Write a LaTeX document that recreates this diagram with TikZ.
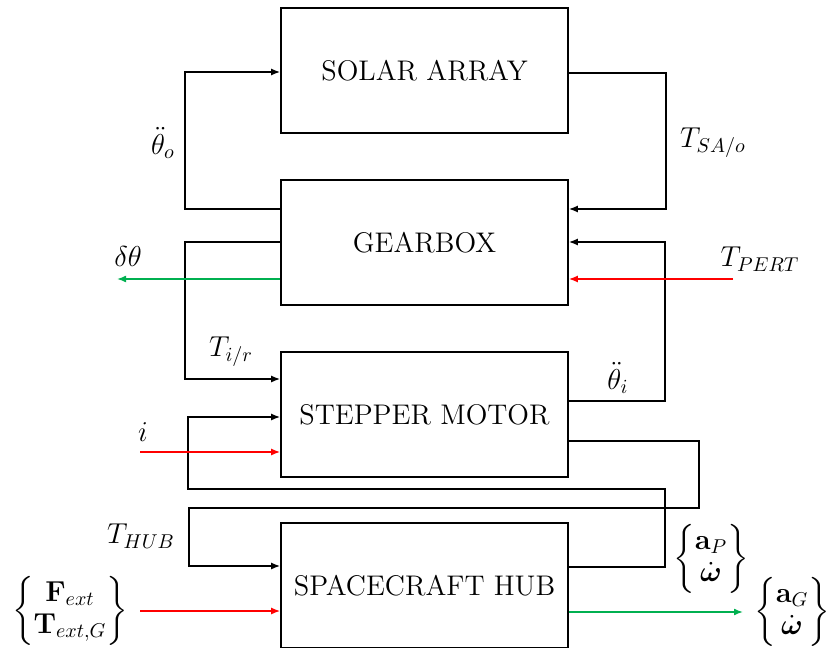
\documentclass[tikz,border=0pt]{standalone}
\usepackage{amsmath}
\usepackage{tikz}
\usetikzlibrary{positioning, arrows.meta}
\definecolor{SigRed}{RGB}{255,0,0}
\definecolor{SigGreen}{RGB}{0,176,80}

\begin{document}
\begin{tikzpicture}[x=0.5pt, y=-0.5pt,
    block/.style={draw, line width=0.8pt, minimum width=143.5pt,
                  minimum height=62.5pt, inner sep=0pt,
                  font=\fontsize{14.2}{16}\selectfont},
    sig/.style={line width=0.8pt, -{Latex[length=4.5pt,width=3.5pt]}},
    insig/.style={sig, SigRed},
    outsig/.style={sig, SigGreen},
    lbl/.style={font=\fontsize{14}{16}\selectfont, inner sep=0pt}]
  \useasboundingbox (0,0) rectangle (826,648);

  % Blocks
  \node[block] (sa) at (424.5,70.5) {SOLAR ARRAY};
  \node[block, below=22.7pt of sa] (gb) {GEARBOX};
  \node[block, below=22.7pt of gb] (sm) {STEPPER MOTOR};
  \node[block, below=22.2pt of sm] (hub) {SPACECRAFT HUB};

  % Solar array <-> gearbox
  \draw[sig] (gb.west |- 0,209) -- (185,209) |- (sa.west |- 0,72);
  \draw[sig] (sa.east |- 0,73) -- (666,73) |- (gb.east |- 0,209);
  \node[lbl] (thoo) at (163,143) {$\ddot{\theta}_o$};
  \node[lbl] (tsa) at (713,143) {$T_{SA/o}$};

  % Gearbox <-> stepper motor
  \draw[sig] (gb.west |- 0,242) -- (185,242) |- (sm.west |- 0,379);
  \draw[sig] (sm.east |- 0,401) -- (665,401) |- (gb.east |- 0,242);
  \node[lbl] (tir) at (231,352) {$T_{i/r}$};
  \node[lbl] (thi) at (618,378) {$\ddot{\theta}_i$};

  % Stepper motor <-> hub
  \draw[sig] (hub.east |- 0,567) -- (665,567) |- (188,489) |- (sm.west |- 0,417);
  \draw[sig] (sm.east |- 0,441) -- (699,441) |- (189,508) |- (hub.west |- 0,566);
  \node[lbl] (thub) at (141,536) {$T_{HUB}$};
  \node[lbl] (ap) at (711,559)
        {$\begin{Bmatrix} \mathbf{a}_P \\ \dot{\boldsymbol{\omega}} \end{Bmatrix}$};

  % Inputs
  \coordinate (pertin) at (733,279);
  \draw[insig] (pertin) -- (gb.east |- pertin);
  \node[lbl] (tpert) at (760,259) {$T_{PERT}$};

  \coordinate (iin) at (140,452);
  \draw[insig] (iin) -- (sm.west |- iin);
  \node[lbl] (cur) at (143,432) {$i$};

  \coordinate (fin) at (140,611);
  \draw[insig] (fin) -- (hub.west |- fin);
  \node[lbl] (fext) at (70,611)
        {$\begin{Bmatrix} \mathbf{F}_{ext} \\ \mathbf{T}_{ext,G} \end{Bmatrix}$};

  % Outputs
  \coordinate (dthout) at (117,279);
  \draw[outsig] (gb.west |- dthout) -- (dthout);
  \node[lbl] (dth) at (128,256) {$\delta\theta$};

  \coordinate (agout) at (743,612);
  \draw[outsig] (hub.east |- agout) -- (agout);
  \node[lbl] (ag) at (792,612)
        {$\begin{Bmatrix} \mathbf{a}_G \\ \dot{\boldsymbol{\omega}} \end{Bmatrix}$};
\end{tikzpicture}
\end{document}
